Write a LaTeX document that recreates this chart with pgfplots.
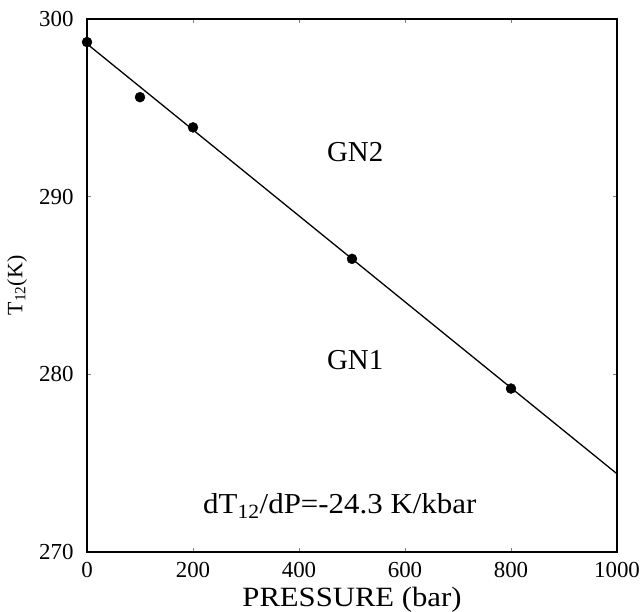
\documentclass[border=0pt]{standalone}
\usepackage{pgfplots}
\pgfplotsset{compat=1.18}
\usepackage{fontspec}
\setmainfont{Liberation Serif}
\begin{document}
\begin{tikzpicture}
\begin{axis}[
  name=ax,
  scale only axis,
  width=530bp, height=533bp,
  xmin=0, xmax=1000, ymin=270, ymax=300,
  xtick={0,200,400,600,800,1000},
  ytick={270,280,290,300},
  tick align=inside,
  major tick length=4bp,
  tick style={line width=0.6pt},
  axis line style={line width=1.6bp},
  /pgf/number format/assume math mode=true,
  /pgf/number format/1000 sep={},
  ticklabel style={font=\fontsize{23}{26}\selectfont},
  xticklabel style={yshift=-7bp},
  yticklabel style={xshift=-10bp},
  xlabel={PRESSURE (bar)},
  ylabel={T\textsubscript{12}(K)},
  xlabel style={font=\fontsize{28}{32}\selectfont, xscale=1.1, at={(axis description cs:0.5,0)}, anchor=base, yshift=-54bp},
  ylabel style={font=\fontsize{22}{26}\selectfont, at={(axis description cs:0,0.5)}, anchor=center, rotate=0, yshift=70bp},
  clip=false,
]
\addplot[black, line width=1.3bp, no marks] coordinates {(0,298.6) (1000,274.4)};
\addplot[only marks, mark=*, mark size=5bp, black] coordinates {
  (0,298.7) (100,295.6) (200,293.9) (500,286.5) (800,279.2)
};
\node[font=\fontsize{29}{33}\selectfont] at (axis cs:506,292.5) {GN2};
\node[font=\fontsize{29}{33}\selectfont] at (axis cs:506,280.8) {GN1};
\node[font=\fontsize{29}{33}\selectfont, xscale=1.07] at (axis cs:477,272.6) {dT\textsubscript{12}/dP=-24.3 K/kbar};
\end{axis}
\pgfresetboundingbox
\path ([xshift=-87bp,yshift=-60bp]ax.south west) rectangle ([xshift=25bp,yshift=19bp]ax.north east);
\end{tikzpicture}
\end{document}
